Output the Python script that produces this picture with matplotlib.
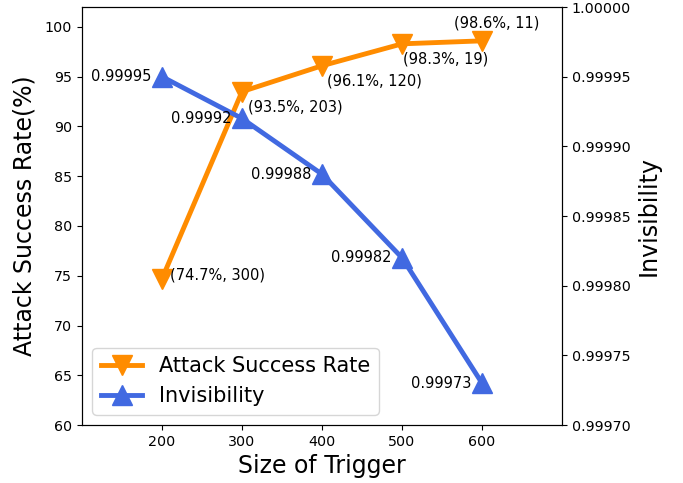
import matplotlib
matplotlib.use("Agg")
import matplotlib.pyplot as plt

# data
sizes = [200, 300, 400, 500, 600]
asr = [74.7, 93.5, 96.1, 98.3, 98.6]
asr_labels = ["(74.7%, 300)", "(93.5%, 203)", "(96.1%, 120)", "(98.3%, 19)", "(98.6%, 11)"]
invis = [0.99995, 0.99992, 0.99988, 0.99982, 0.99973]
invis_labels = ["0.99995", "0.99992", "0.99988", "0.99982", "0.99973"]

fig = plt.figure(figsize=(6.83, 4.83), dpi=100)
ax = fig.add_axes([0.12, 0.12, 0.703, 0.8655])
ax2 = ax.twinx()

l1, = ax.plot(sizes, asr, color="darkorange", marker="v", markersize=14, linewidth=3.5,
              label="Attack Success Rate")
l2, = ax2.plot(sizes, invis, color="royalblue", marker="^", markersize=14, linewidth=3.5,
               label="Invisibility")

# orange annotations (offsets in pixels)
asr_off = [(8, 4, "left"), (6, -15, "left"), (5, -15, "left"), (1, -15, "left"), (15, 18, "center")]
for x, y, s, (dx, dy, ha) in zip(sizes, asr, asr_labels, asr_off):
    ax.annotate(s, (x, y), xytext=(dx, dy), textcoords="offset pixels",
                ha=ha, va="center", fontsize=10.5)

for x, y, s in zip(sizes, invis, invis_labels):
    ax2.annotate(s, (x, y), xytext=(-11, 0), textcoords="offset pixels",
                 ha="right", va="center", fontsize=10.5)

ax.set_xlim(100, 700)
ax.set_ylim(60, 102)
ax2.set_ylim(0.9997, 1.0)
ax.set_xticks(sizes)
ax.set_yticks(range(60, 101, 5))
ax2.set_yticks([0.9997, 0.99975, 0.9998, 0.99985, 0.9999, 0.99995, 1.0])
ax2.set_yticklabels(["0.99970", "0.99975", "0.99980", "0.99985", "0.99990", "0.99995", "1.00000"])
ax.tick_params(labelsize=10.3)
ax2.tick_params(labelsize=10.3)

ax.set_xlabel("Size of Trigger", fontsize=17)
ax.set_ylabel("Attack Success Rate(%)", fontsize=17, labelpad=6)
ax2.set_ylabel("Invisibility", fontsize=17)

ax.legend([l1, l2], ["Attack Success Rate", "Invisibility"], loc="lower left", fontsize=15)

fig.savefig("out.png", dpi=100)
